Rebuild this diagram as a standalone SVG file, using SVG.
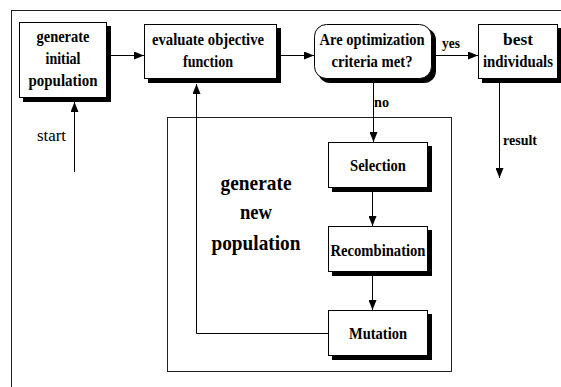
<svg xmlns="http://www.w3.org/2000/svg" width="561" height="387" viewBox="0 0 561 387">
<style>
.bg{fill:#fff}
.frame{fill:none;stroke:#222;stroke-width:1}
.box{fill:#fff;stroke:#000;stroke-width:1}
.shadow{fill:#000}
.t{font-family:"Liberation Serif",serif;font-weight:bold;font-size:16px;text-anchor:middle;fill:#000}
.big{font-size:21px}
.lbl{font-family:"Liberation Serif",serif;font-weight:bold;font-size:15px;fill:#000}
.reg{font-weight:normal;font-size:16px}
.c{fill:none;stroke:#000;stroke-width:1}
</style>
<defs>
<marker id="ah" viewBox="0 0 10 8" refX="10" refY="4" markerWidth="10" markerHeight="8" markerUnits="userSpaceOnUse" orient="auto">
<path d="M0,0 L10,4 L0,8 Z" fill="#000"/>
</marker>
</defs>
<rect class="bg" x="0" y="0" width="561" height="387"/>
<rect class="frame" x="11.5" y="10.5" width="620" height="420"/>
<g id="inner-frame">
<rect class="frame" x="167.5" y="117.5" width="284" height="254"/>
<text class="t big" x="256" y="190" textLength="71" lengthAdjust="spacingAndGlyphs">generate</text>
<text class="t big" x="256" y="219" textLength="32" lengthAdjust="spacingAndGlyphs">new</text>
<text class="t big" x="256" y="250" textLength="89" lengthAdjust="spacingAndGlyphs">population</text>
</g>
<g id="connectors">
<line class="c" x1="111" y1="55.5" x2="144" y2="55.5" marker-end="url(#ah)"/>
<line class="c" x1="281" y1="55.5" x2="314" y2="55.5" marker-end="url(#ah)"/>
<line class="c" x1="436" y1="55.5" x2="478" y2="55.5" marker-end="url(#ah)"/>
<line class="c" x1="74.5" y1="172" x2="74.5" y2="102" marker-end="url(#ah)"/>
<line class="c" x1="499.5" y1="83" x2="499.5" y2="178" marker-end="url(#ah)"/>
<line class="c" x1="373.5" y1="83" x2="373.5" y2="142" marker-end="url(#ah)"/>
<line class="c" x1="372.5" y1="192" x2="372.5" y2="226" marker-end="url(#ah)"/>
<line class="c" x1="372.5" y1="276" x2="372.5" y2="310" marker-end="url(#ah)"/>
<polyline class="c" points="328,333.5 196.5,333.5 196.5,84" marker-end="url(#ah)"/>
<text class="lbl" x="442" y="48" textLength="18" lengthAdjust="spacingAndGlyphs">yes</text>
<text class="lbl" x="374" y="107" textLength="15" lengthAdjust="spacingAndGlyphs">no</text>
<text class="lbl" x="503" y="145" textLength="34" lengthAdjust="spacingAndGlyphs">result</text>
<text class="lbl reg" x="37" y="141" textLength="29" lengthAdjust="spacingAndGlyphs">start</text>
</g>
<g id="init">
<rect class="shadow" x="23" y="26" width="88" height="76"/>
<rect class="box" x="19.5" y="22.5" width="87" height="75"/>
<text class="t" x="63" y="42" textLength="53" lengthAdjust="spacingAndGlyphs">generate</text>
<text class="t" x="63" y="64" textLength="35" lengthAdjust="spacingAndGlyphs">initial</text>
<text class="t" x="63" y="86" textLength="69" lengthAdjust="spacingAndGlyphs">population</text>
</g>
<g id="evaluate">
<rect class="shadow" x="148" y="28" width="133" height="55"/>
<rect class="box" x="144.5" y="24.5" width="132" height="54"/>
<text class="t" x="208" y="45" textLength="112" lengthAdjust="spacingAndGlyphs">evaluate objective</text>
<text class="t" x="208" y="67" textLength="50" lengthAdjust="spacingAndGlyphs">function</text>
</g>
<g id="criteria">
<rect class="shadow" x="318" y="28" width="118" height="55" rx="12"/>
<rect class="box" x="314.5" y="24.5" width="117" height="54" rx="12"/>
<text class="t" x="372" y="45" textLength="105" lengthAdjust="spacingAndGlyphs">Are optimization</text>
<text class="t" x="372" y="67" textLength="81" lengthAdjust="spacingAndGlyphs">criteria met?</text>
</g>
<g id="best">
<rect class="shadow" x="482" y="28" width="80" height="55"/>
<rect class="box" x="478.5" y="24.5" width="79" height="54"/>
<text class="t" x="518" y="45" textLength="30" lengthAdjust="spacingAndGlyphs">best</text>
<text class="t" x="518" y="67" textLength="70" lengthAdjust="spacingAndGlyphs">individuals</text>
</g>
<g id="selection">
<rect class="shadow" x="332" y="146" width="100" height="46"/>
<rect class="box" x="328.5" y="142.5" width="99" height="45"/>
<text class="t" x="378" y="171" textLength="56" lengthAdjust="spacingAndGlyphs">Selection</text>
</g>
<g id="recombination">
<rect class="shadow" x="332" y="230" width="100" height="46"/>
<rect class="box" x="328.5" y="226.5" width="99" height="45"/>
<text class="t" x="378" y="256" textLength="95" lengthAdjust="spacingAndGlyphs">Recombination</text>
</g>
<g id="mutation">
<rect class="shadow" x="332" y="314" width="100" height="46"/>
<rect class="box" x="328.5" y="310.5" width="99" height="45"/>
<text class="t" x="378" y="339" textLength="58" lengthAdjust="spacingAndGlyphs">Mutation</text>
</g>
</svg>
